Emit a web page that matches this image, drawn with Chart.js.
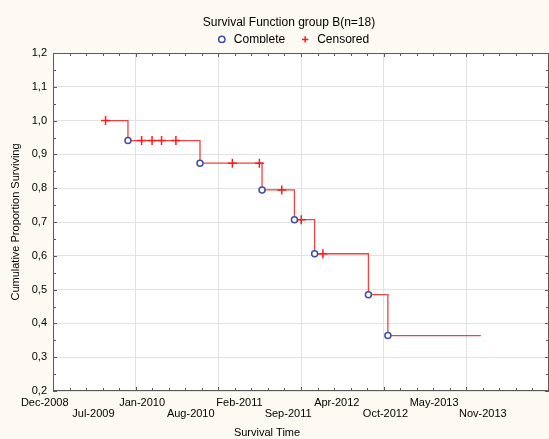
<!DOCTYPE html>
<html>
  <head>
    <title>Survival Function group B</title>
    <script src="https://cdn.jsdelivr.net/npm/chart.js"></script>
    <style>
      html, body { margin: 0; padding: 0; background: #fcfaf2; }
      #survChart { display: block; }
    </style>
  </head>
  <body>
    <canvas id="survChart" width="549" height="439"></canvas>

    <script>
      // x values are day serials (spreadsheet style: 39800 = 18-Dec-2008)
      const eventDays = [40142, 40438, 40693, 40826, 40909, 41130, 41210];
      const eventSurvival = [0.941, 0.874, 0.795, 0.707, 0.606, 0.485, 0.364];

      const censorDays = [40050, 40198, 40241, 40280, 40339, 40571, 40682, 40774, 40854, 40943];
      const censorSurvival = [1.0, 0.941, 0.941, 0.941, 0.941, 0.874, 0.874, 0.795, 0.707, 0.606];

      const lastDay = 41592; // end of follow-up, curve stays flat to here

      const tickDays = [39800, 40000, 40200, 40400, 40600, 40800, 41000, 41200, 41400, 41600];
      const tickLabels = ["Dec-2008", "Jul-2009", "Jan-2010", "Aug-2010", "Feb-2011",
                          "Sep-2011", "Apr-2012", "Oct-2012", "May-2013", "Nov-2013"];

      const xMin = 39834;
      const xMax = 41872;
      const gridStep = (xMax - xMin) / 6;

      // step curve: starts at first censored time at 1.0, drops at each event
      const curve = [{ x: censorDays[0], y: 1.0 }]
        .concat(eventDays.map((d, i) => ({ x: d, y: eventSurvival[i] })))
        .concat([{ x: lastDay, y: eventSurvival[eventSurvival.length - 1] }]);

      Chart.defaults.font.family = "'Liberation Sans', Arial, sans-serif";
      Chart.defaults.font.size = 11;
      Chart.defaults.color = "#000";

      // move title, legend and x title to where Statistica puts them
      const nudge = {
        id: "nudge",
        afterLayout(chart) {
          const move = (box, dx, dy) => {
            box.left += dx; box.right += dx;
            box.top += dy; box.bottom += dy;
          };
          move(chart.titleBlock, 14.5, 0);
          move(chart.legend, 18, -10);
          move(chart.scales.x, -34, 0);
        }
      };

      // white plot area, dark frame and small inward ticks on all sides
      const frame = {
        id: "frame",
        beforeDraw(chart) {
          const a = chart.chartArea, c = chart.ctx;
          c.save();
          c.fillStyle = "#fff";
          c.fillRect(a.left, a.top, a.right - a.left, a.bottom - a.top);
          c.restore();
        },
        afterDraw(chart) {
          const { ctx: c, chartArea: a, scales } = chart;
          c.save();
          c.strokeStyle = "#5a5a5a";
          c.lineWidth = 1;
          c.beginPath();
          for (let i = 0; i <= 30; i++) {
            const px = Math.round(scales.x2.getPixelForValue(xMin + i * gridStep / 5)) + 0.5;
            const len = i % 5 === 0 ? 4 : 3;
            c.moveTo(px, a.bottom); c.lineTo(px, a.bottom - len);
            c.moveTo(px, a.top); c.lineTo(px, a.top + len);
          }
          for (let i = 0; i <= 20; i++) {
            const py = Math.round(scales.y.getPixelForValue(0.2 + i * 0.05)) + 0.5;
            const len = i % 2 === 0 ? 4 : 3;
            c.moveTo(a.left, py); c.lineTo(a.left + len, py);
            c.moveTo(a.right, py); c.lineTo(a.right - len, py);
          }
          c.stroke();
          c.strokeRect(Math.round(a.left) + 0.5, Math.round(a.top) + 0.5,
                       Math.round(a.right - a.left) - 1, Math.round(a.bottom - a.top) - 1);
          c.restore();
        }
      };

      const ctx = document.getElementById("survChart").getContext("2d");

      const survChart = new Chart(ctx, {
        type: "scatter",
        data: {
          datasets: [
            {
              label: "Complete",
              data: eventDays.map((d, i) => ({ x: d, y: eventSurvival[i] })),
              pointStyle: "circle",
              pointRadius: 3,
              pointBorderWidth: 1.5,
              borderColor: "#3b4fa8",
              backgroundColor: "#fff",
              order: 1
            },
            {
              label: "Censored",
              data: censorDays.map((d, i) => ({ x: d, y: censorSurvival[i] })),
              pointStyle: "cross",
              pointRadius: 4.5,
              pointBorderWidth: 1.5,
              borderColor: "#ff1a1a",
              backgroundColor: "#ff1a1a",
              order: 2
            },
            {
              type: "line",
              label: "",
              data: curve,
              stepped: true,
              borderColor: "rgba(238, 45, 45, 0.9)",
              borderWidth: 1.3,
              pointRadius: 0,
              fill: false,
              order: 3
            }
          ]
        },
        options: {
          responsive: false,
          animation: false,
          events: [],
          layout: { padding: 0, autoPadding: false },
          plugins: {
            title: {
              display: true,
              text: "Survival Function group B(n=18)",
              font: { size: 12, weight: "normal" },
              color: "#000",
              padding: { top: 15, bottom: 0 }
            },
            legend: {
              display: true,
              position: "top",
              maxHeight: 23.6,
              labels: {
                usePointStyle: true,
                boxHeight: 4.5,
                padding: 14,
                font: { size: 12 },
                color: "#000",
                filter: (item) => item.text !== ""
              }
            },
            tooltip: { enabled: false }
          },
          scales: {
            x: {
              type: "linear",
              position: "bottom",
              min: xMin,
              max: xMax,
              afterBuildTicks: (scale) => {
                scale.ticks = tickDays.map((v) => ({ value: v }));
              },
              afterFit: (scale) => {
                scale.height = 48;
                scale.paddingLeft = 0;
                scale.paddingRight = 0;
              },
              ticks: {
                autoSkip: false,
                maxRotation: 0,
                padding: 6,
                font: { size: 11, lineHeight: 1.05 },
                callback: (value, index) =>
                  index % 2 === 0 ? [tickLabels[index], ""] : ["", tickLabels[index]]
              },
              grid: { display: false, drawTicks: false },
              border: { display: false },
              title: {
                display: true,
                text: "Survival Time",
                font: { size: 11 },
                padding: { top: 0, bottom: -1 }
              }
            },
            x2: {
              type: "linear",
              position: "top",
              min: xMin,
              max: xMax,
              afterBuildTicks: (scale) => {
                const t = [];
                for (let i = 0; i <= 6; i++) t.push({ value: xMin + i * gridStep });
                scale.ticks = t;
              },
              afterFit: (scale) => { scale.height = 0; },
              ticks: { display: false },
              grid: { color: "#e2e2e2", drawTicks: false },
              border: { display: false }
            },
            y: {
              type: "linear",
              min: 0.2,
              max: 1.2,
              afterFit: (scale) => { scale.width = 53; },
              ticks: {
                stepSize: 0.1,
                padding: 6,
                font: { size: 11 },
                callback: (v) => v.toFixed(1).replace(".", ",")
              },
              grid: { color: "#e2e2e2", drawTicks: false },
              border: { display: false },
              title: {
                display: true,
                text: "Cumulative Proportion Surviving",
                font: { size: 11 },
                padding: { top: 9, bottom: 0 }
              }
            }
          }
        },
        plugins: [nudge, frame]
      });
    </script>
  </body>
</html>
